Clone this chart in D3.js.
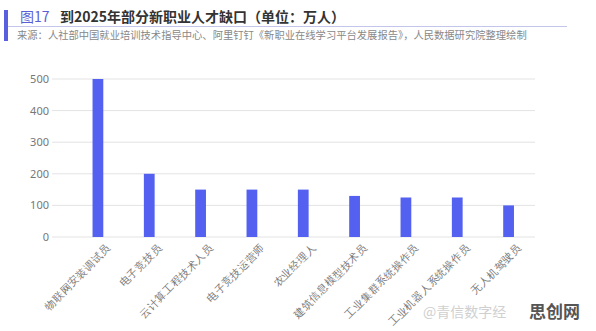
<!DOCTYPE html>
<html>
<head>
<meta charset="utf-8">
<script src="https://cdn.jsdelivr.net/npm/d3@7"></script>
<style>
  body { margin: 0; background: #fff; }
  svg { font-family: "Noto Sans CJK SC", "Noto Sans", sans-serif; }
</style>
</head>
<body>
<div id="chart"></div>
<script>
// Data
const categories = [
  "物联网安装调试员", "电子竞技员", "云计算工程技术人员", "电子竞技运营师",
  "农业经理人", "建筑信息模型技术员", "工业集群系统操作员",
  "工业机器人系统操作员", "无人机驾驶员"
];
const values = [500, 200, 150, 150, 150, 130, 125, 125, 100];
const yTicks = [0, 100, 200, 300, 400, 500];

const W = 596, H = 331;
const svg = d3.select("#chart").append("svg")
  .attr("width", W).attr("height", H);

// Header
svg.append("rect").attr("x", 4).attr("y", 10).attr("width", 4).attr("height", 31)
  .attr("fill", "#5a5fe0");
svg.append("text").attr("x", 20).attr("y", 22)
  .attr("font-size", 14).attr("fill", "#5a5fd6").text("图17");
svg.append("text").attr("x", 60).attr("y", 22)
  .attr("font-size", 14).attr("font-weight", "bold").attr("fill", "#333").text("到2025年部分新职业人才缺口（单位：万人）");
svg.append("line").attr("x1", 8).attr("x2", 567).attr("y1", 26.5).attr("y2", 26.5)
  .attr("stroke", "#c3c5ea").attr("stroke-width", 1);
svg.append("text").attr("x", 17).attr("y", 39)
  .attr("font-size", 10.3).attr("fill", "#888")
  .text("来源：人社部中国就业培训技术指导中心、阿里钉钉《新职业在线学习平台发展报告》，人民数据研究院整理绘制");

// Scales
const x = d3.scaleBand().domain(categories).range([72, 534])
  .paddingInner(0.8).paddingOuter(0.4);
const y = d3.scaleLinear().domain([0, 500]).range([237, 79]);

// Gridlines
svg.append("g").selectAll("line").data(yTicks).join("line")
  .attr("x1", 52).attr("x2", 535)
  .attr("y1", d => y(d)).attr("y2", d => y(d))
  .attr("stroke", "#e3e3e3").attr("stroke-width", 1);

// Y axis labels
const yAxis = svg.append("g").attr("transform", "translate(49,0)")
  .call(d3.axisLeft(y).tickValues(yTicks).tickSize(0).tickPadding(0));
yAxis.select(".domain").remove();
yAxis.selectAll("text").attr("font-size", 11).attr("fill", "#777")
  .attr("font-family", "'Noto Sans', sans-serif");

// Bars
svg.append("g").selectAll("rect").data(values).join("rect")
  .attr("x", (d, i) => x(categories[i]))
  .attr("width", x.bandwidth() + 0.5)
  .attr("y", d => y(d))
  .attr("height", d => y(0) - y(d))
  .attr("fill", "#5360f0");

// X labels rotated
const xAxis = svg.append("g").attr("transform", "translate(0,237)")
  .call(d3.axisBottom(x).tickSize(0).tickPadding(0));
xAxis.select(".domain").remove();
xAxis.selectAll("text")
  .attr("font-size", 10.5).attr("fill", "#777")
  .attr("text-anchor", "end")
  .attr("dy", "0.35em")
  .attr("transform", "translate(11,9) rotate(-45)");

// Watermark
svg.append("text").attr("x", 423).attr("y", 317)
  .attr("font-size", 14).attr("fill", "#d0d0d0").text("@青信数字经");
svg.append("text").attr("x", 529).attr("y", 318)
  .attr("font-size", 17).attr("font-weight", "bold").attr("fill", "#555").text("思创网");
</script>
</body>
</html>
